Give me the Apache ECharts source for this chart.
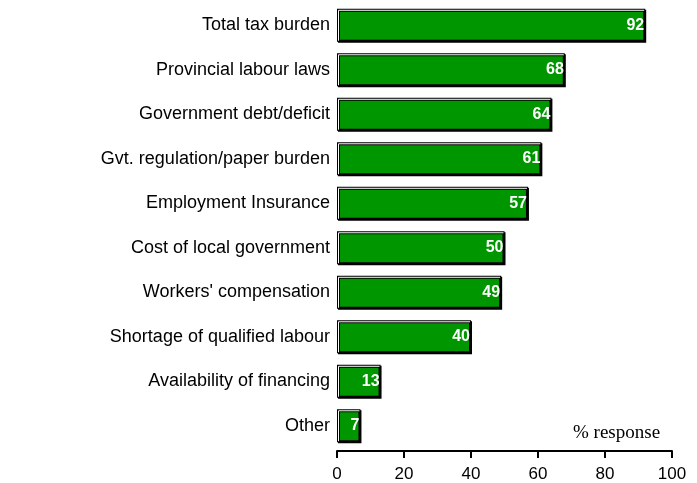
<!DOCTYPE html>
<html><head><meta charset="utf-8">
<script src="https://cdn.jsdelivr.net/npm/echarts@6/dist/echarts.min.js"></script>
<style>html,body{margin:0;padding:0;background:#fff}#c{width:697px;height:483px}</style>
</head><body><div id="c"></div>
<script>
const categories = ["Total tax burden","Provincial labour laws","Government debt/deficit","Gvt. regulation/paper burden","Employment Insurance","Cost of local government","Workers' compensation","Shortage of qualified labour","Availability of financing","Other"];
const values = [92,68,64,61,57,50,49,40,13,7];
const xTicks = [0,20,40,60,80,100];
const unitLabel = "% response";
const BAR_RATIO = 0.74;

const chart = echarts.init(document.getElementById('c'));
chart.setOption({
  animation:false,
  grid:{left:337,right:25,top:3,height:446},
  xAxis:{type:'value',min:0,max:100,interval:20,offset:3,
    axisLine:{show:true,lineStyle:{color:'#000',width:2}},
    axisTick:{show:true,length:7,lineStyle:{color:'#000',width:2}},
    axisLabel:{color:'#000',fontFamily:'Liberation Sans',fontSize:17,margin:15,
      formatter:v=>xTicks.includes(v)?String(v):''},
    splitLine:{show:false}},
  yAxis:{type:'category',data:categories,inverse:true,
    axisLine:{show:false},axisTick:{show:false},
    axisLabel:{color:'#000',fontFamily:'Liberation Sans',fontSize:18,margin:7}},
  graphic:[{type:'text',left:573,top:424,style:{text:unitLabel,font:'19px "Liberation Serif"',fill:'#000'}}],
  series:[
    {type:'bar',data:values,barWidth:(BAR_RATIO*100)+'%',z:2,
      itemStyle:{color:'#009600',borderColor:'#000',borderWidth:2,shadowColor:'#000',shadowOffsetX:1,shadowOffsetY:1,shadowBlur:0},
      label:{show:true,position:'insideRight',distance:1,color:'#fff',fontWeight:'bold',fontFamily:'Liberation Sans',fontSize:16}},
    {type:'custom',z:3,silent:true,
      data:values.map((v,i)=>[v,i]),
      encode:{x:0,y:1},
      renderItem:function(params,api){
        const p0 = api.coord([0, api.value(1)]);
        const p1 = api.coord([api.value(0), api.value(1)]);
        const h = api.size([0,1])[1]*BAR_RATIO;
        const top = p0[1]-h/2, bot = p0[1]+h/2;
        const x0 = p0[0]+1.5, x1 = p1[0]-1;
        return {type:'polyline',shape:{points:[[x0,bot-1],[x0,top+1.5],[x1,top+1.5]]},
          style:{stroke:'#fff',lineWidth:1,fill:null}};
      }}
  ]
});
</script></body></html>
